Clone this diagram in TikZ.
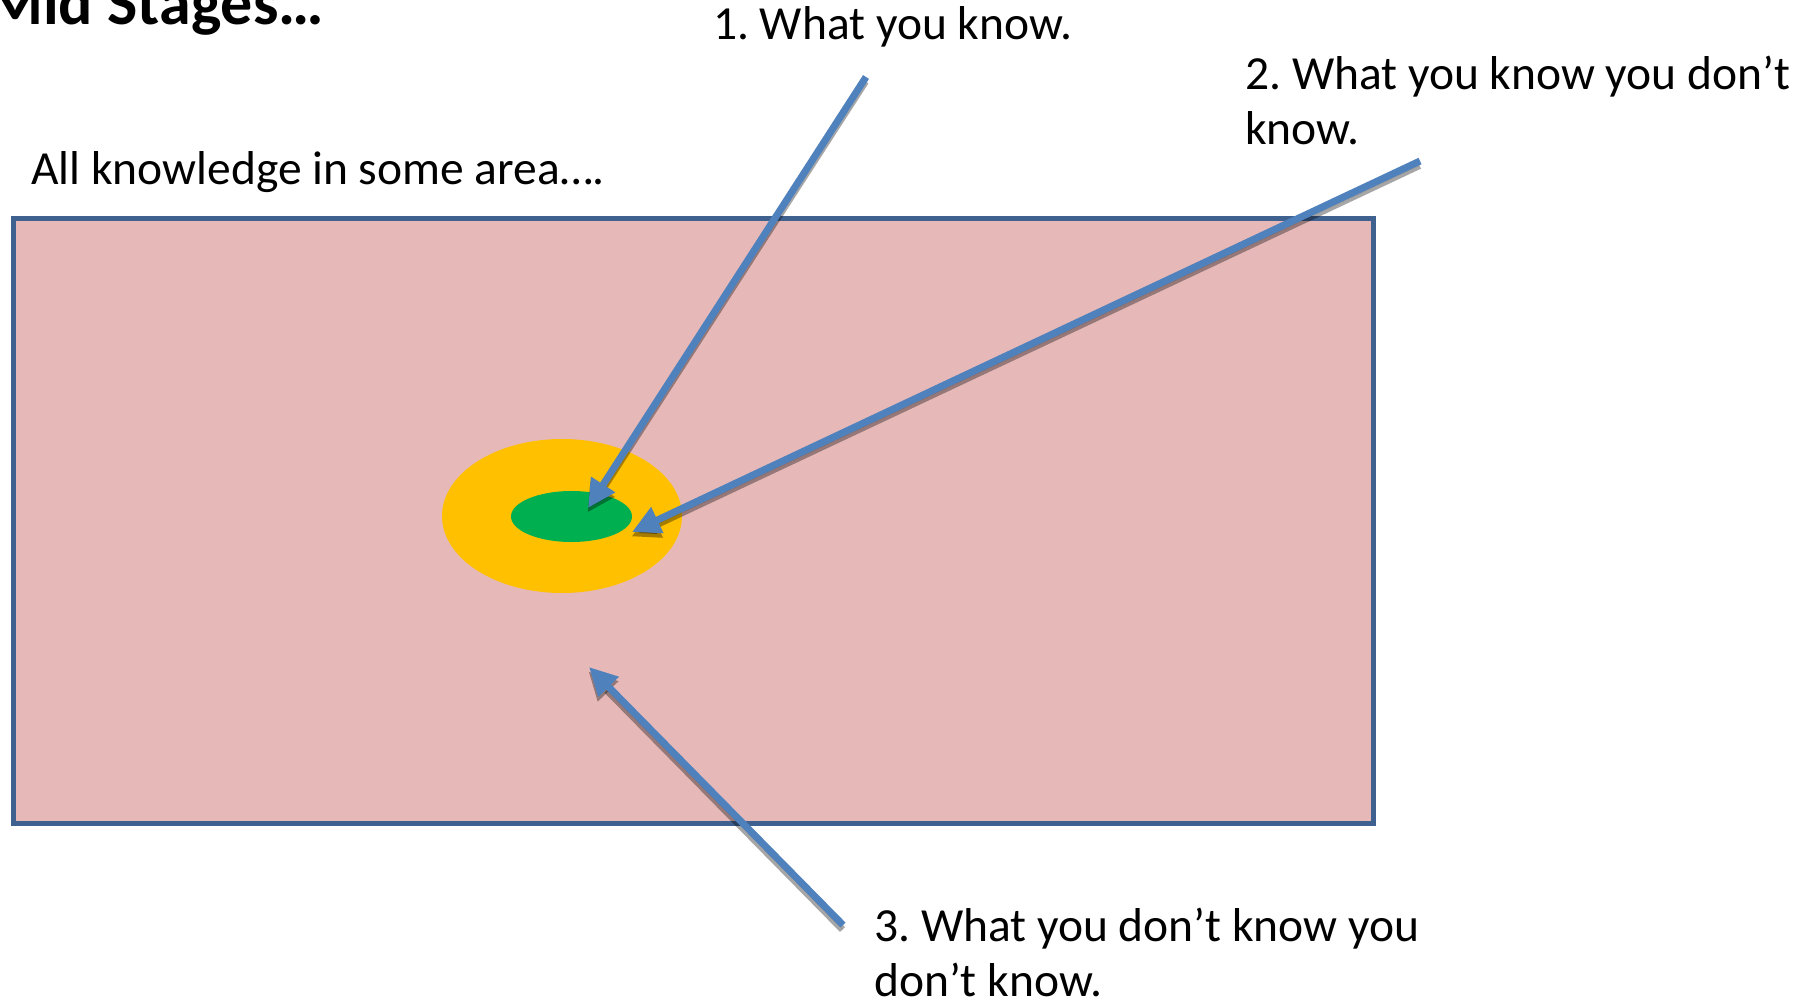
\documentclass[tikz,border=0pt]{standalone}
\usepackage{fontspec}
\setmainfont{Carlito}
\usetikzlibrary{arrows.meta}
\definecolor{pinkfill}{HTML}{E6B9B8}
\definecolor{rectline}{HTML}{3F6190}
\definecolor{yellowring}{HTML}{FFC000}
\definecolor{greencore}{HTML}{00B050}
\definecolor{arrowblue}{HTML}{4F81BD}
\tikzset{
  lbl/.style={anchor=base west, inner sep=0pt, font=\fontsize{47.5}{55}\selectfont, align=left},
  bluearrow/.style={draw=arrowblue, line width=7pt, -{Triangle[length=28pt,width=27pt]}, fill=arrowblue},
  shadowarrow/.style={draw=black, opacity=0.35, line width=7pt, -{Triangle[length=28pt,width=27pt]}, fill=black},
  sh/.style={xshift=-0.5pt, yshift=-4.5pt}
}
\frenchspacing
\begin{document}
\begin{tikzpicture}[x=1pt,y=-1pt]
\useasboundingbox (0,0) rectangle (1803,1000);
\clip (0,0) rectangle (1803,1000);
\fill[white] (0,0) rectangle (1803,1000);
% title
\node[anchor=base west, inner sep=0pt, font=\fontsize{64}{72}\selectfont\bfseries] (title) at (-13,25) {Mid Stages…};
% area label
\node[lbl] (arealbl) at (31,185) {All knowledge in some area….};
% knowledge rectangle
\draw[rectline, line width=5pt, fill=pinkfill] (13,219) rectangle (1373,823);
% ellipses
\fill[yellowring] (562,516) ellipse [x radius=120, y radius=77];
\fill[greencore] (571.5,516.5) ellipse [x radius=60.5, y radius=25.5];
% labels (base anchor = baseline of last line)
\node[lbl] (l1) at (713,40) {1. What you know.};
\node[lbl] (l2) at (1245,145) {2. What you know you don’t\\know.};
\node[lbl] (l3) at (874,996) {3. What you don’t know you\\don’t know.};
% arrow coordinates
\coordinate (t1) at (866,77);
\coordinate (h1) at (588,508);
\coordinate (t2) at (1420,161);
\coordinate (h2) at (632,532);
\coordinate (t3) at (843,925);
\coordinate (h3) at (589,667);
% shadows
\draw[shadowarrow] ([sh]t1) -- ([sh]h1);
\draw[shadowarrow] ([sh]t2) -- ([sh]h2);
\draw[shadowarrow] ([sh]t3) -- ([sh]h3);
% arrows
\draw[bluearrow] (t1) -- (h1);
\draw[bluearrow] (t2) -- (h2);
\draw[bluearrow] (t3) -- (h3);
\end{tikzpicture}
\end{document}
